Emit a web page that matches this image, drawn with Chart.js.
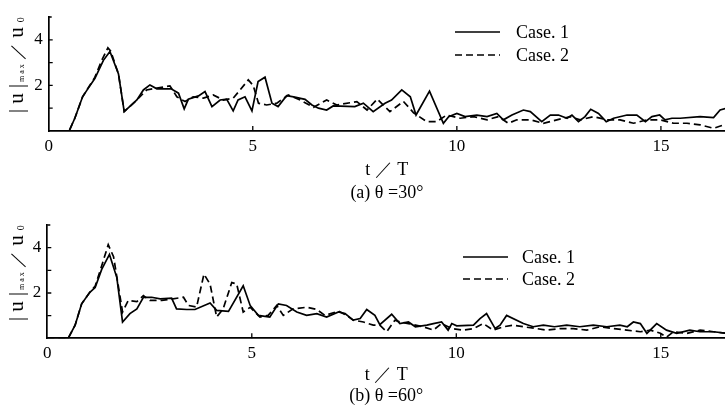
<!DOCTYPE html>
<html>
<head>
<meta charset="utf-8">
<script src="https://cdn.jsdelivr.net/npm/chart.js@4/dist/chart.umd.min.js"></script>
<style>
  html, body { margin: 0; padding: 0; background: #fff; }
  canvas { display: block; }
</style>
</head>
<body>
<canvas id="c1" width="725" height="208"></canvas>
<canvas id="c2" width="725" height="208"></canvas>
<script>
// ---------- data ----------
const xTicks = [0, 5, 10, 15];
const yTicks = [1, 2, 3, 4];
const yTickLabels = ['', '2', '', '4'];
const seriesLabels = ['Case. 1', 'Case. 2'];
const xTitle = 't ／ T';
const captionA = '(a) θ =30°';
const captionB = '(b) θ =60°';

// (a) theta = 30 deg, Case 1
const tA1 = [0, 0.5, 0.64, 0.83, 0.97, 1.13, 1.34, 1.5, 1.71, 1.85, 2.16, 2.32, 2.48, 2.65, 3.0, 3.18, 3.32, 3.42, 3.67, 3.83, 4.0, 4.2, 4.36, 4.52, 4.64, 4.81, 4.98, 5.13, 5.3, 5.47, 5.62, 5.83, 6.0, 6.28, 6.45, 6.61, 6.81, 6.97, 7.5, 7.71, 7.95, 8.24, 8.4, 8.65, 8.86, 9.0, 9.33, 9.67, 9.8, 10.0, 10.2, 10.49, 10.74, 10.98, 11.14, 11.35, 11.63, 11.8, 12.08, 12.29, 12.49, 12.7, 12.82, 12.98, 13.14, 13.28, 13.47, 13.66, 13.84, 14.17, 14.41, 14.62, 14.78, 14.97, 15.1, 15.27, 15.47, 15.96, 16.29, 16.45, 16.6];
const vA1 = [0, 0, 0.56, 1.5, 1.88, 2.3, 3.1, 3.49, 2.5, 0.85, 1.36, 1.8, 2.02, 1.85, 1.85, 1.66, 0.97, 1.39, 1.54, 1.73, 1.07, 1.36, 1.4, 0.88, 1.36, 1.5, 0.88, 2.17, 2.36, 1.22, 1.07, 1.55, 1.5, 1.39, 1.14, 1.0, 0.92, 1.1, 1.07, 1.22, 0.85, 1.22, 1.36, 1.8, 1.5, 0.7, 1.75, 0.34, 0.63, 0.77, 0.63, 0.7, 0.63, 0.77, 0.49, 0.7, 0.92, 0.85, 0.41, 0.7, 0.7, 0.56, 0.7, 0.41, 0.63, 0.95, 0.77, 0.41, 0.56, 0.7, 0.7, 0.41, 0.63, 0.7, 0.49, 0.56, 0.56, 0.63, 0.59, 0.92, 1.0];
// (a) Case 2
const tA2 = [0, 0.5, 0.64, 0.83, 0.97, 1.13, 1.3, 1.45, 1.52, 1.71, 1.85, 2.16, 2.4, 2.65, 2.97, 3.14, 3.34, 3.54, 3.79, 4.03, 4.28, 4.52, 4.69, 4.89, 5.01, 5.14, 5.34, 5.59, 5.87, 6.16, 6.49, 6.81, 7.06, 7.55, 7.8, 8.05, 8.36, 8.69, 8.94, 9.26, 9.51, 9.75, 10.08, 10.41, 10.74, 11.02, 11.26, 11.47, 11.8, 12.12, 12.45, 12.78, 13.02, 13.35, 13.68, 14.0, 14.33, 14.66, 14.98, 15.31, 15.64, 15.96, 16.29, 16.6];
const vA2 = [0, 0, 0.56, 1.5, 1.9, 2.35, 3.1, 3.65, 3.5, 2.5, 0.85, 1.36, 1.8, 1.88, 1.98, 1.5, 1.29, 1.5, 1.44, 1.58, 1.36, 1.44, 1.8, 2.24, 2.0, 1.22, 1.14, 1.22, 1.58, 1.36, 1.04, 1.36, 1.14, 1.29, 0.92, 1.4, 0.85, 1.3, 0.8, 0.41, 0.41, 0.7, 0.56, 0.63, 0.49, 0.63, 0.34, 0.49, 0.49, 0.34, 0.49, 0.63, 0.49, 0.63, 0.49, 0.49, 0.34, 0.49, 0.49, 0.34, 0.34, 0.27, 0.12, 0.3];
// (b) theta = 60 deg, Case 1
const tB1 = [0, 0.51, 0.68, 0.84, 1.04, 1.17, 1.33, 1.52, 1.7, 1.84, 2.02, 2.19, 2.35, 2.55, 2.76, 3.04, 3.16, 3.41, 3.61, 3.98, 4.14, 4.43, 4.79, 4.96, 5.16, 5.44, 5.65, 5.85, 6.1, 6.34, 6.59, 6.83, 7.12, 7.28, 7.48, 7.65, 7.81, 8.01, 8.13, 8.42, 8.62, 8.83, 9.0, 9.28, 9.44, 9.64, 9.8, 9.89, 10.01, 10.42, 10.58, 10.74, 10.95, 11.07, 11.23, 11.64, 11.88, 12.13, 12.4, 12.7, 13.02, 13.35, 13.68, 14.0, 14.18, 14.33, 14.5, 14.66, 14.9, 15.14, 15.39, 15.71, 15.96, 16.29, 16.6];
const vB1 = [0, 0, 0.58, 1.52, 2.03, 2.24, 3.04, 3.7, 2.68, 0.72, 1.09, 1.3, 1.81, 1.81, 1.74, 1.77, 1.3, 1.27, 1.27, 1.56, 1.23, 1.19, 2.32, 1.45, 1.01, 0.94, 1.52, 1.45, 1.16, 1.01, 1.09, 0.94, 1.16, 1.09, 0.8, 0.87, 1.27, 1.01, 0.6, 1.06, 0.65, 0.72, 0.51, 0.58, 0.65, 0.72, 0.36, 0.65, 0.55, 0.58, 0.87, 1.09, 0.43, 0.58, 1.01, 0.65, 0.51, 0.58, 0.51, 0.58, 0.51, 0.58, 0.51, 0.58, 0.51, 0.72, 0.65, 0.22, 0.65, 0.36, 0.22, 0.36, 0.29, 0.29, 0.22];
// (b) Case 2
const tB2 = [0, 0.51, 0.68, 0.84, 1.04, 1.17, 1.33, 1.49, 1.62, 1.84, 1.98, 2.19, 2.35, 2.51, 2.8, 3.33, 3.45, 3.65, 3.83, 3.98, 4.14, 4.3, 4.51, 4.63, 4.79, 4.96, 5.2, 5.4, 5.61, 5.77, 6.01, 6.34, 6.59, 6.79, 7.12, 7.32, 7.48, 7.73, 7.97, 8.13, 8.3, 8.5, 8.62, 8.83, 9.19, 9.44, 9.64, 9.89, 10.17, 10.42, 10.66, 10.9, 11.15, 11.4, 11.64, 11.96, 12.21, 12.54, 12.86, 13.19, 13.51, 13.84, 14.17, 14.5, 14.75, 14.99, 15.14, 15.31, 15.64, 15.96, 16.29, 16.6];
const vB2 = [0, 0, 0.58, 1.52, 2.03, 2.3, 3.2, 4.13, 3.6, 1.16, 1.67, 1.62, 1.88, 1.67, 1.67, 1.81, 1.45, 1.38, 2.83, 2.39, 0.94, 1.3, 2.46, 2.4, 1.16, 1.37, 0.94, 1.01, 1.45, 1.01, 1.3, 1.37, 1.27, 1.01, 1.2, 1.01, 0.8, 0.72, 0.58, 0.58, 0.29, 0.8, 0.72, 0.65, 0.51, 0.36, 0.65, 0.43, 0.36, 0.43, 0.65, 0.36, 0.51, 0.58, 0.51, 0.43, 0.36, 0.43, 0.43, 0.36, 0.51, 0.43, 0.36, 0.29, 0.36, 0.22, 0.05, 0.29, 0.22, 0.36, 0.29, 0.22];

const xMin = 0, xMax = 16.57, yMin = 0, yMax = 5;

// ---------- helpers ----------
const pts = (ts, vs) => ts.map((t, i) => ({ x: t, y: vs[i] }));
const SERIF = '"Liberation Serif", "Times New Roman", serif';

const innerTicks = {
  id: 'innerTicks',
  afterDatasetsDraw(chart) {
    const { ctx, chartArea: a, scales: { x, y } } = chart;
    ctx.save();
    ctx.strokeStyle = '#000';
    ctx.lineWidth = 1.3;
    ctx.beginPath();
    xTicks.forEach(v => { if (v > xMin) { const px = x.getPixelForValue(v); ctx.moveTo(px, a.bottom); ctx.lineTo(px, a.bottom - 5); } });
    yTicks.forEach(v => { const py = y.getPixelForValue(v); ctx.moveTo(a.left, py); ctx.lineTo(a.left + 4, py); });
    const pt = y.getPixelForValue(yMax);
    ctx.moveTo(a.left, pt); ctx.lineTo(a.left + 3, pt);
    ctx.stroke();
    ctx.restore();
  }
};

const cornerLegend = {
  id: 'cornerLegend',
  afterDraw(chart, args, o) {
    const ctx = chart.ctx;
    ctx.save();
    chart.data.datasets.forEach((ds, i) => {
      const yy = o.ys[i];
      ctx.strokeStyle = '#000';
      ctx.lineWidth = 1.7;
      ctx.setLineDash(ds.borderDash || []);
      ctx.beginPath();
      ctx.moveTo(o.x1, yy); ctx.lineTo(o.x2, yy);
      ctx.stroke();
      ctx.setLineDash([]);
      ctx.fillStyle = '#000';
      ctx.font = '18px ' + SERIF;
      ctx.textBaseline = 'middle';
      ctx.textAlign = 'left';
      ctx.fillText(ds.label, o.tx, yy + 1);
    });
    ctx.restore();
  }
};

const yTitlePlugin = {
  id: 'yTitlePlugin',
  afterDraw(chart, args, o) {
    const ctx = chart.ctx;
    const parts = [['|', 20, 0], [' u ', 21, 0], ['|', 20, 0], [' m a x', 8, 1], [' ／', 17, 0], [' u', 21, 0], ['  0', 10, 1]];
    ctx.save();
    ctx.translate(o.x, o.y);
    ctx.rotate(-Math.PI / 2);
    ctx.fillStyle = '#000';
    ctx.textBaseline = 'alphabetic';
    ctx.textAlign = 'left';
    let cx = 0;
    parts.forEach(([t, s, dy]) => {
      ctx.font = s + 'px ' + SERIF;
      ctx.fillText(t, cx, dy);
      cx += ctx.measureText(t).width;
    });
    ctx.restore();
  }
};

function makeChart(id, d1, d2, caption, opt) {
  return new Chart(document.getElementById(id), {
    type: 'line',
    data: {
      datasets: [
        { label: seriesLabels[0], data: d1, borderColor: '#000', borderWidth: 1.7, pointRadius: 0, tension: 0, fill: false },
        { label: seriesLabels[1], data: d2, borderColor: '#000', borderWidth: 1.7, borderDash: [7, 4], pointRadius: 0, tension: 0, fill: false }
      ]
    },
    options: {
      responsive: false,
      animation: false,
      layout: { padding: { top: opt.top, left: 0, right: 0, bottom: 0 } },
      plugins: {
        legend: { display: false },
        tooltip: { enabled: false },
        cornerLegend: opt.legend,
        yTitlePlugin: { x: 23, y: opt.top + 96 }
      },
      scales: {
        x: {
          type: 'linear', min: xMin, max: xMax,
          grid: { display: false, drawTicks: false },
          border: { display: true, color: '#000', width: 1.7 },
          afterBuildTicks: s => { s.ticks = xTicks.map(v => ({ value: v })); },
          afterFit: s => { s.height = opt.xh; },
          ticks: { color: '#000', font: { family: SERIF, size: 17 }, padding: 5, maxRotation: 0, autoSkip: false },
          title: {
            display: true, text: [xTitle, caption], color: '#000',
            font: { family: SERIF, size: 18, lineHeight: opt.lh },
            padding: { top: 0, bottom: opt.pb }
          }
        },
        y: {
          type: 'linear', min: yMin, max: yMax,
          grid: { display: false, drawTicks: false },
          border: { display: true, color: '#000', width: 1.7 },
          afterBuildTicks: s => { s.ticks = yTicks.map(v => ({ value: v })); },
          afterFit: s => { s.width = opt.yw; },
          ticks: { color: '#000', font: { family: SERIF, size: 17 }, padding: 6, autoSkip: false,
                   callback: (v) => yTickLabels[yTicks.indexOf(v)] ?? '' }
        }
      }
    },
    plugins: [innerTicks, cornerLegend, yTitlePlugin]
  });
}

makeChart('c1', pts(tA1, vA1), pts(tA2, vA2), captionA,
  { top: 17, xh: 77, yw: 48.7, lh: 23 / 18, pb: 3.5, legend: { x1: 455, x2: 500, tx: 516, ys: [32, 55] } });
makeChart('c2', pts(tB1, vB1), pts(tB2, vB2), captionB,
  { top: 17, xh: 77.7, yw: 47.3, lh: 21 / 18, pb: 9, legend: { x1: 463, x2: 508, tx: 522, ys: [49, 71] } });
</script>
</body>
</html>
